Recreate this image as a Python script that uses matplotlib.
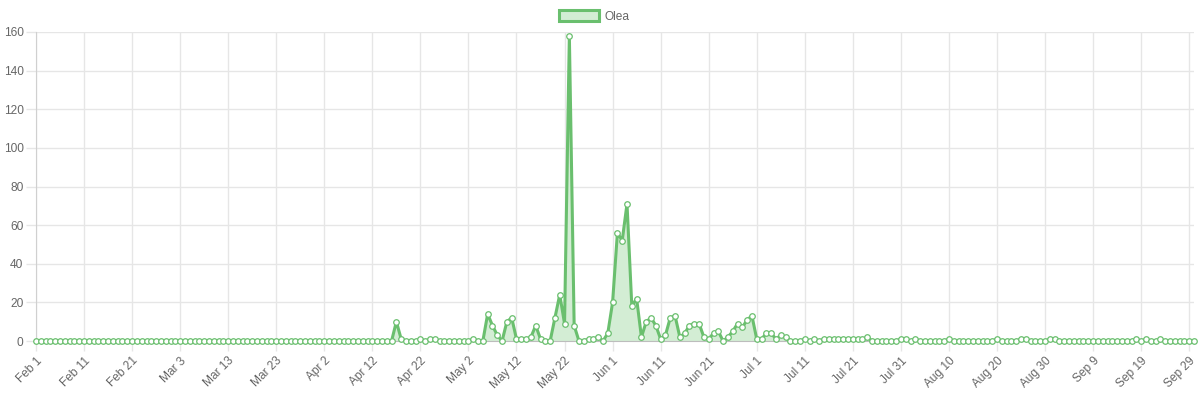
import matplotlib
matplotlib.use('Agg')
import matplotlib.pyplot as plt
from matplotlib.patches import Patch
import pandas as pd

# daily counts, Feb 1 .. Sep 30
start_date = '2019-02-01'
series_name = 'Olea'
counts = ([0] * 75 +
          [10, 1, 0, 0, 0, 1, 0, 1, 1, 0, 0, 0, 0, 0, 0, 0, 1, 0, 0,       # 75-93
           14, 8, 3, 0, 10, 12, 1, 1, 1, 2, 8, 1, 0, 0, 12, 24, 9,         # 94-110
           158, 8, 0, 0, 1, 1, 2, 0, 4, 20, 56, 52, 71, 18, 22, 2,         # 111-126
           10, 12, 8, 1, 3, 12, 13, 2, 4, 8, 9, 9, 2, 1, 4, 5,             # 127-142
           0, 2, 5, 9, 7, 11, 13, 1, 1, 4, 4, 1, 3, 2, 0, 0, 0, 1,         # 143-160
           0, 1, 0, 1, 1, 1, 1, 1, 1, 1, 1, 1, 2, 0, 0, 0, 0, 0, 0,        # 161-179
           1, 1, 0, 1, 0, 0, 0, 0, 0, 0, 1, 0, 0, 0, 0, 0, 0, 0, 0, 0,     # 180-199
           1, 0, 0, 0, 0, 1, 1, 0, 0, 0, 0, 1, 1] +                        # 200-212
          [0] * 16 +                                                       # 213-228
          [1, 0, 1, 0, 0, 1, 0, 0, 0, 0, 0, 0, 0])                         # 229-241
y_ticks = [0, 20, 40, 60, 80, 100, 120, 140, 160]

dates = pd.date_range(start_date, periods=len(counts), freq='D')
x = list(range(len(counts)))
tick_pos = x[::10]
tick_labels = [d.strftime('%b') + ' ' + str(d.day) for d in dates[::10]]

green = '#6abf6e'
fill = '#d3edd4'
grey_txt = '#666666'
grid_c = '#e6e6e6'

plt.rcParams['font.family'] = ['Liberation Sans', 'DejaVu Sans']
fs = 8.6

fig = plt.figure(figsize=(12.01, 4.0), dpi=100)
ax = fig.add_axes([36 / 1201, 59 / 400, 1158 / 1201, 309 / 400])

ax.fill_between(x, counts, 0, color=fill, linewidth=0, zorder=2)
ax.plot(x, counts, color=green, linewidth=2.2, zorder=3, clip_on=False,
        marker='o', markersize=4, markerfacecolor='white',
        markeredgecolor=green, markeredgewidth=0.9)

ax.set_xlim(0, len(counts) - 1)
ax.set_ylim(0, 160)
ax.set_yticks(y_ticks)
ax.set_xticks(tick_pos)
ax.set_xticklabels(tick_labels, rotation=45, ha='right', rotation_mode='anchor')

ax.grid(True, color=grid_c, linewidth=1, zorder=0)
ax.tick_params(axis='both', colors=grid_c, labelcolor=grey_txt, labelsize=fs,
               length=7, width=1)
ax.tick_params(axis='y', pad=2)
ax.tick_params(axis='x', pad=3)

for s in ['top', 'right']:
    ax.spines[s].set_visible(False)
ax.spines['left'].set_color('#d0d0d0')
ax.spines['bottom'].set_color('#bdbdbd')

handle = Patch(facecolor=fill, edgecolor=green, linewidth=2.2, label=series_name)
fig.legend(handles=[handle], loc='upper center', bbox_to_anchor=(0.495, 1.0),
           frameon=False, fontsize=fs, labelcolor=grey_txt,
           handlelength=3.3, handleheight=1.0, handletextpad=0.5,
           borderaxespad=0.45)

fig.savefig('out.png', dpi=100)
